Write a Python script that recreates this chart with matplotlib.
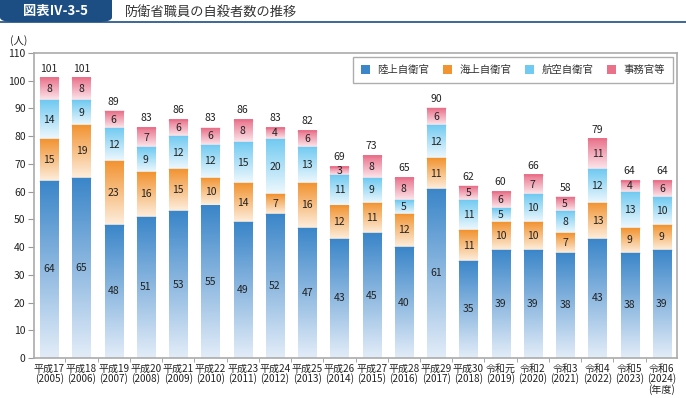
import numpy as np
import matplotlib
matplotlib.use("Agg")
import matplotlib.pyplot as plt
from matplotlib.colors import LinearSegmentedColormap
from matplotlib.patches import FancyBboxPatch, Rectangle

plt.rcParams['font.family'] = ['Noto Sans CJK JP', 'DejaVu Sans']

# data
years = ['平成17\n(2005)', '平成18\n(2006)', '平成19\n(2007)', '平成20\n(2008)',
         '平成21\n(2009)', '平成22\n(2010)', '平成23\n(2011)', '平成24\n(2012)',
         '平成25\n(2013)', '平成26\n(2014)', '平成27\n(2015)', '平成28\n(2016)',
         '平成29\n(2017)', '平成30\n(2018)', '令和元\n(2019)', '令和2\n(2020)',
         '令和3\n(2021)', '令和4\n(2022)', '令和5\n(2023)', '令和6\n(2024)\n(年度)']
ground = [64, 65, 48, 51, 53, 55, 49, 52, 47, 43, 45, 40, 61, 35, 39, 39, 38, 43, 38, 39]
maritime = [15, 19, 23, 16, 15, 10, 14, 7, 16, 12, 11, 12, 11, 11, 10, 10, 7, 13, 9, 9]
air = [14, 9, 12, 9, 12, 12, 15, 20, 13, 11, 9, 5, 12, 11, 5, 10, 8, 12, 13, 10]
civil = [8, 8, 6, 7, 6, 6, 8, 4, 6, 3, 8, 8, 6, 5, 6, 7, 5, 11, 4, 6]
totals = [101, 101, 89, 83, 86, 83, 86, 83, 82, 69, 73, 65, 90, 62, 60, 66, 58, 79, 64, 64]

series = [
    ('陸上自衛官', ground, '#3b86c9', '#e2ecf8'),
    ('海上自衛官', maritime, '#f29432', '#fdeedd'),
    ('航空自衛官', air, '#70caf1', '#eef8fd'),
    ('事務官等', civil, '#e9718a', '#fce6eb'),
]

fig = plt.figure(figsize=(6.86, 3.98), dpi=100)
ax = fig.add_axes([34 / 686, 1 - 358 / 398, (677 - 34) / 686, (358 - 53) / 398])

x = np.arange(len(years))
width = 0.56
grad = np.linspace(1, 0, 64).reshape(-1, 1)
txt = '#222222'

bottom = np.zeros(len(years))
for name, vals, top_c, bot_c in series:
    cmap = LinearSegmentedColormap.from_list(name, [bot_c, top_c])
    for i, v in enumerate(vals):
        b = bottom[i]
        ax.imshow(grad, cmap=cmap, aspect='auto', interpolation='bilinear',
                  extent=(x[i] - width / 2, x[i] + width / 2, b, b + v), zorder=2)
        ax.plot([x[i] - width / 2, x[i] + width / 2], [b + v, b + v],
                color=top_c, lw=1.0, zorder=3)
        ax.text(x[i], b + v / 2, str(v), ha='center', va='center',
                fontsize=7.5, color=txt, zorder=4)
    bottom += np.array(vals)

for i, t in enumerate(totals):
    ax.text(x[i], t + 1.6, str(t), ha='center', va='bottom', fontsize=7.5, color=txt)

ax.set_xlim(-0.47, len(years) - 0.53)
ax.set_ylim(0, 110)
ax.set_yticks(np.arange(0, 111, 10))
ax.set_xticks(x)
ax.set_xticklabels(years, fontsize=7.2, color=txt, linespacing=0.95)
ax.set_xticks(np.arange(-0.5, len(years), 1)[1:-1], minor=True)
ax.tick_params(axis='x', which='major', length=0, pad=4)
ax.tick_params(axis='x', which='minor', length=3, color='#999999', direction='out')
ax.tick_params(axis='y', length=4, color='#999999', labelsize=7.5, labelcolor=txt, pad=2)
for s in ax.spines.values():
    s.set_color('#aaaaaa')
    s.set_linewidth(1.2)

# legend
handles = []
for _, _, top_c, bot_c in series:
    handles.append(Rectangle((0, 0), 1, 1, facecolor=top_c, edgecolor='none'))
leg = ax.legend(handles, [s[0] for s in series], loc='upper right', ncol=4,
                fontsize=7.5, frameon=True, fancybox=False, edgecolor='#999999',
                handlelength=0.9, handleheight=0.9, handletextpad=0.7,
                columnspacing=1.3, borderpad=0.75, borderaxespad=0,
                bbox_to_anchor=(673 / 643 - 34 / 643, 1 - 4 / 305))
leg.get_frame().set_linewidth(1.0)
for t in leg.get_texts():
    t.set_color('#333333')

fig.text(10 / 686, 1 - 41 / 398, '(人)', fontsize=7.5, color=txt, va='center')

# header
fig.add_artist(FancyBboxPatch((0, 1 - 22 / 398), 112 / 686, 30 / 398,
                              boxstyle='round,pad=0,rounding_size=0.02',
                              transform=fig.transFigure, facecolor='#1c4e83',
                              edgecolor='none', mutation_aspect=0.58))
fig.add_artist(plt.Line2D([0, 1], [1 - 22 / 398, 1 - 22 / 398], transform=fig.transFigure,
                          color='#1c4e83', lw=1.2))
fig.text(56 / 686, 1 - 11 / 398, '図表Ⅳ-3-5', color='white', fontsize=9.5,
         fontweight='bold', ha='center', va='center')
fig.text(125 / 686, 1 - 12 / 398, '防衛省職員の自殺者数の推移', color='#333333',
         fontsize=9.5, ha='left', va='center')

fig.savefig('out.png', dpi=100)
